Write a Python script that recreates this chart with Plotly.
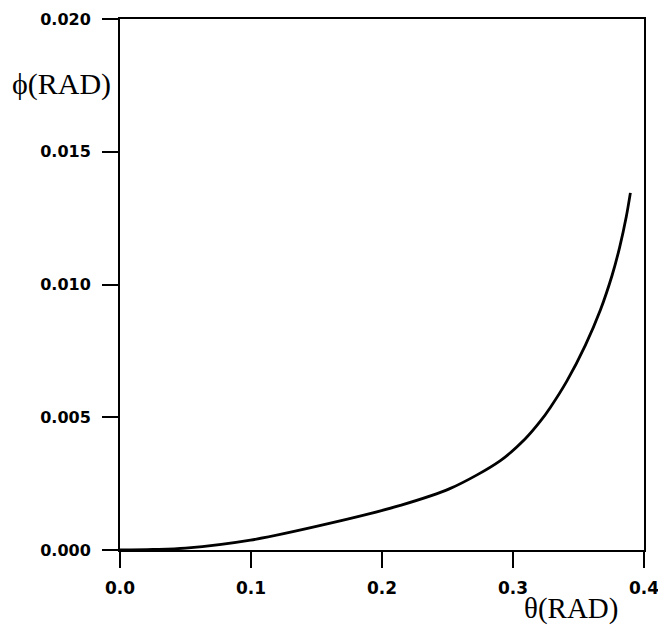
import plotly.graph_objects as go

# Data
theta = [0.0, 0.025, 0.05, 0.0996, 0.1606, 0.214, 0.2522, 0.2904, 0.3094, 0.3209,
         0.3285, 0.3412, 0.3552, 0.3667, 0.3756, 0.3814, 0.3865, 0.3896]
phi = [0.0, 0.00002, 0.00007, 0.00037, 0.00101, 0.00168, 0.00232, 0.00337, 0.00419,
       0.00485, 0.00537, 0.00637, 0.00771, 0.00904, 0.01034, 0.01140, 0.01256, 0.01345]

x_ticks = [0.0, 0.1, 0.2, 0.3, 0.4]
y_ticks = [0.000, 0.005, 0.010, 0.015, 0.020]

W, H = 658, 628
L, R, T, B = 120, 14, 19, 78

fig = go.Figure()
fig.add_trace(go.Scatter(x=theta, y=phi, mode="lines",
                         line=dict(color="black", width=2.8, shape="spline", smoothing=0.9),
                         hoverinfo="skip", showlegend=False))

tickfont = dict(family="DejaVu Sans", size=16, color="black", weight="bold")
axis_common = dict(showgrid=False, zeroline=False, showline=True, linewidth=2,
                   linecolor="black", mirror=True, ticks="outside", ticklen=16,
                   tickwidth=2, tickcolor="black",
                   ticklabeloverflow="allow", automargin=False)

fig.update_xaxes(range=[0, 0.4], tickvals=x_ticks, tickformat=".1f",
                 ticklabelstandoff=6, tickfont=dict(tickfont, size=17), **axis_common)
fig.update_yaxes(range=[0, 0.02], tickvals=y_ticks, tickformat=".3f",
                 ticklabelstandoff=8, tickfont=tickfont, **axis_common)

pw = W - L - R
ph = H - T - B
fig.add_annotation(text="ϕ(RAD)", xref="paper", yref="paper",
                   x=(113 - L) / pw, y=(H - B - 84) / ph, xanchor="right", yanchor="middle",
                   showarrow=False, font=dict(family="Liberation Serif", size=30, color="black"))
fig.add_annotation(text="θ(RAD)", xref="paper", yref="paper",
                   x=(571 - L) / pw, y=(H - B - 608) / ph, xanchor="center", yanchor="middle",
                   showarrow=False, font=dict(family="Liberation Serif", size=29, color="black"))

fig.update_layout(width=W, height=H, margin=dict(l=L, r=R, t=T, b=B),
                  plot_bgcolor="white", paper_bgcolor="white")

fig.write_html("out.html")
